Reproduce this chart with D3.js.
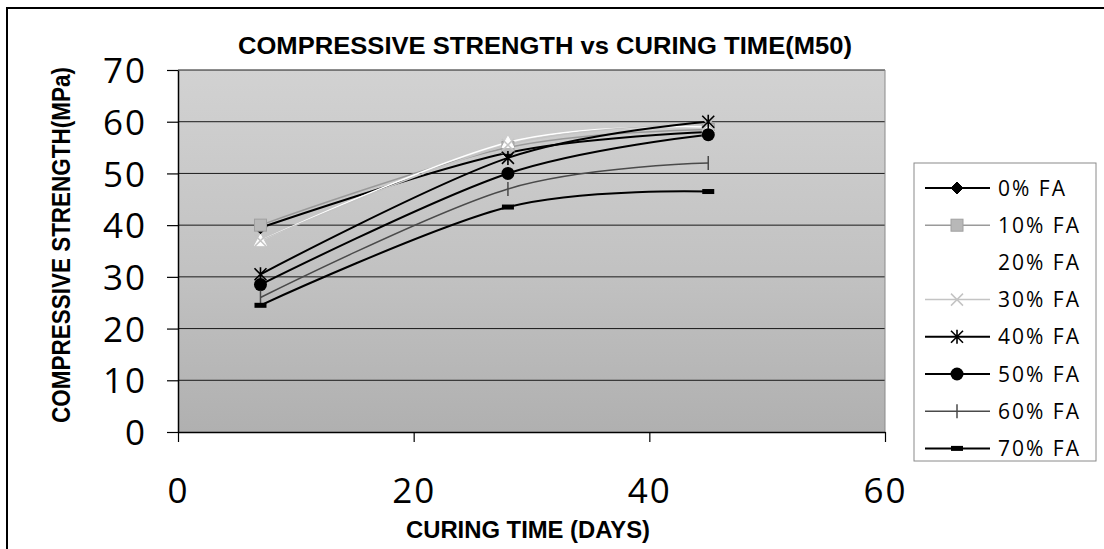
<!DOCTYPE html>
<html>
<head>
<meta charset="utf-8">
<script src="https://cdn.jsdelivr.net/npm/d3@7"></script>
<style>
  html, body { margin: 0; padding: 0; background: #fff; }
  svg { display: block; }
</style>
</head>
<body>
<svg id="chart" width="1104" height="549"></svg>
<script>
// Curing ages (days) at which the cubes were tested
const curingDays = [7, 28, 45];

// Mean compressive strength (MPa) for each fly-ash replacement level
const fa0  = [39.5, 54.0, 58.0];
const fa10 = [40.0, 55.0, 58.5];
const fa20 = [37.0, 56.0, 59.0];
const fa30 = [37.0, 55.5, 59.5];
const fa40 = [30.5, 53.0, 60.0];
const fa50 = [28.5, 50.0, 57.5];
const fa60 = [26.0, 47.0, 52.0];
const fa70 = [24.5, 43.5, 46.5];

const seriesNames = ["0% FA", "10% FA", "20% FA", "30% FA", "40% FA", "50% FA", "60% FA", "70% FA"];
const seriesValues = [fa0, fa10, fa20, fa30, fa40, fa50, fa60, fa70];

const xTicks = [0, 20, 40, 60];
const yTicks = [0, 10, 20, 30, 40, 50, 60, 70];

const titleText = "COMPRESSIVE STRENGTH vs CURING TIME(M50)";
const xTitle = "CURING TIME (DAYS)";
const yTitle = "COMPRESSIVE STRENGTH(MPa)";

// Line / marker styling per series
const styles = [
  { stroke: "#000",    width: 2,   marker: "diamond",  fill: "#000" },
  { stroke: "#9a9a9a", width: 1.5, marker: "square",   fill: "#b8b8b8" },
  { stroke: "#ffffff", width: 1.5, marker: "triangle", fill: "#ffffff" },
  { stroke: "#c4c4c4", width: 1.5, marker: "x",        fill: "none" },
  { stroke: "#000",    width: 2,   marker: "star",     fill: "none" },
  { stroke: "#000",    width: 2,   marker: "circle",   fill: "#000" },
  { stroke: "#4a4a4a", width: 1.5, marker: "plus",     fill: "none" },
  { stroke: "#000",    width: 2,   marker: "dash",     fill: "#000" }
];

const svg = d3.select("#chart");
const W = 1104, H = 549;
const plot = { left: 178, right: 885, top: 70, bottom: 432 };

const x = d3.scaleLinear().domain([0, 60]).range([plot.left, plot.right]);
const y = d3.scaleLinear().domain([0, 70]).range([plot.bottom, plot.top]);

const defs = svg.append("defs");
const grad = defs.append("linearGradient").attr("id", "plotFill")
  .attr("x1", 0).attr("y1", 0).attr("x2", 0).attr("y2", 1);
grad.append("stop").attr("offset", "0%").attr("stop-color", "#d2d2d2");
grad.append("stop").attr("offset", "55%").attr("stop-color", "#c2c2c2");
grad.append("stop").attr("offset", "100%").attr("stop-color", "#b0b0b0");

// Outer chart frame
svg.append("rect").attr("x", 7).attr("y", 8).attr("width", W + 20).attr("height", H + 20)
  .attr("fill", "#fff").attr("stroke", "#000").attr("stroke-width", 2);

// Plot area
svg.append("rect")
  .attr("x", plot.left).attr("y", plot.top)
  .attr("width", plot.right - plot.left).attr("height", plot.bottom - plot.top)
  .attr("fill", "url(#plotFill)");

// Horizontal gridlines
svg.append("g").selectAll("line").data(yTicks.filter(d => d > 0)).join("line")
  .attr("x1", plot.left).attr("x2", plot.right)
  .attr("y1", d => y(d)).attr("y2", d => y(d))
  .attr("stroke", "#1a1a1a").attr("stroke-width", 1);

// Right edge of plot area
svg.append("line").attr("x1", plot.right).attr("x2", plot.right)
  .attr("y1", plot.top).attr("y2", plot.bottom)
  .attr("stroke", "#8a8a8a").attr("stroke-width", 1);

// Axes
const tickFont = "'Open Sans', 'DejaVu Sans', sans-serif";

const yAxis = svg.append("g").attr("transform", `translate(${plot.left},0)`)
  .call(d3.axisLeft(y).tickValues(yTicks).tickSize(11).tickPadding(20).tickSizeOuter(0));
const xAxis = svg.append("g").attr("transform", `translate(0,${plot.bottom})`)
  .call(d3.axisBottom(x).tickValues(xTicks).tickSize(10).tickPadding(36).tickSizeOuter(0));

[yAxis, xAxis].forEach(g => {
  g.select(".domain").attr("stroke", "#000").attr("stroke-width", 1.5);
  g.selectAll(".tick line").attr("stroke", "#000").attr("stroke-width", 1.2);
  g.selectAll(".tick text")
    .attr("fill", "#000")
    .style("font-family", tickFont)
    .style("font-size", "35px")
    .style("letter-spacing", "2px");
});
yAxis.selectAll(".tick text").attr("dy", "0.36em");

// Series lines (smoothed) and markers
const line = d3.line()
  .x((d, i) => x(curingDays[i]))
  .y(d => y(d))
  .curve(d3.curveCardinal.tension(0));

function drawMarker(g, type, cx, cy, st) {
  switch (type) {
    case "diamond":
      g.append("path").attr("d", `M${cx},${cy-6}L${cx+6},${cy}L${cx},${cy+6}L${cx-6},${cy}Z`)
        .attr("fill", st.fill).attr("stroke", "#000");
      break;
    case "square":
      g.append("rect").attr("x", cx - 6).attr("y", cy - 6).attr("width", 12).attr("height", 12)
        .attr("fill", st.fill).attr("stroke", "#a0a0a0");
      break;
    case "triangle":
      g.append("path").attr("d", `M${cx},${cy-6}L${cx+6},${cy+5}L${cx-6},${cy+5}Z`)
        .attr("fill", st.fill).attr("stroke", "#fff");
      break;
    case "x":
      g.append("path").attr("d", `M${cx-6},${cy-6}L${cx+6},${cy+6}M${cx-6},${cy+6}L${cx+6},${cy-6}`)
        .attr("stroke", st.stroke).attr("stroke-width", 1.5);
      break;
    case "star":
      g.append("path").attr("d",
        `M${cx-6},${cy-6}L${cx+6},${cy+6}M${cx-6},${cy+6}L${cx+6},${cy-6}M${cx},${cy-7}L${cx},${cy+7}`)
        .attr("stroke", st.stroke).attr("stroke-width", 1.6);
      break;
    case "circle":
      g.append("circle").attr("cx", cx).attr("cy", cy).attr("r", 6.5).attr("fill", st.fill);
      break;
    case "plus":
      g.append("path").attr("d", `M${cx},${cy-7}L${cx},${cy+7}`)
        .attr("stroke", st.stroke).attr("stroke-width", 1.5);
      break;
    case "dash":
      g.append("rect").attr("x", cx - 6).attr("y", cy - 2.5).attr("width", 12).attr("height", 5)
        .attr("fill", st.fill);
      break;
  }
}

const seriesG = svg.append("g");
seriesValues.forEach((vals, k) => {
  const st = styles[k];
  seriesG.append("path").datum(vals)
    .attr("d", line)
    .attr("fill", "none")
    .attr("stroke", st.stroke)
    .attr("stroke-width", st.width);
});
seriesValues.forEach((vals, k) => {
  const g = seriesG.append("g");
  vals.forEach((v, i) => drawMarker(g, styles[k].marker, x(curingDays[i]), y(v), styles[k]));
});

// Titles
const boldFont = "'Liberation Sans Narrow', 'Liberation Sans', Arial, sans-serif";
svg.append("text")
  .attr("x", 238).attr("y", 54)
  .attr("textLength", 614).attr("lengthAdjust", "spacingAndGlyphs")
  .style("font-family", boldFont).style("font-weight", "bold").style("font-size", "24px")
  .text(titleText);

svg.append("text")
  .attr("x", 406).attr("y", 538)
  .attr("textLength", 244).attr("lengthAdjust", "spacingAndGlyphs")
  .style("font-family", boldFont).style("font-weight", "bold").style("font-size", "24px")
  .text(xTitle);

svg.append("text")
  .attr("transform", "translate(70,423) rotate(-90)")
  .attr("textLength", 356).attr("lengthAdjust", "spacingAndGlyphs")
  .style("font-family", boldFont).style("font-weight", "bold").style("font-size", "26px")
  .text(yTitle);

// Legend
const legend = svg.append("g");
legend.append("rect").attr("x", 914).attr("y", 163).attr("width", 182).attr("height", 298)
  .attr("fill", "#fff").attr("stroke", "#8a8a8a").attr("stroke-width", 1);

seriesNames.forEach((name, k) => {
  const st = styles[k];
  const cy = 188 + k * 37.2;
  const g = legend.append("g");
  g.append("line").attr("x1", 925).attr("x2", 990).attr("y1", cy).attr("y2", cy)
    .attr("stroke", st.stroke).attr("stroke-width", st.width);
  drawMarker(g, st.marker, 957, cy, st);
  g.append("text").attr("x", 998).attr("y", cy).attr("dy", "0.36em")
    .style("font-family", tickFont).style("font-size", "21px").style("letter-spacing", "2px")
    .attr("fill", "#000")
    .text(name);
});
</script>
</body>
</html>
